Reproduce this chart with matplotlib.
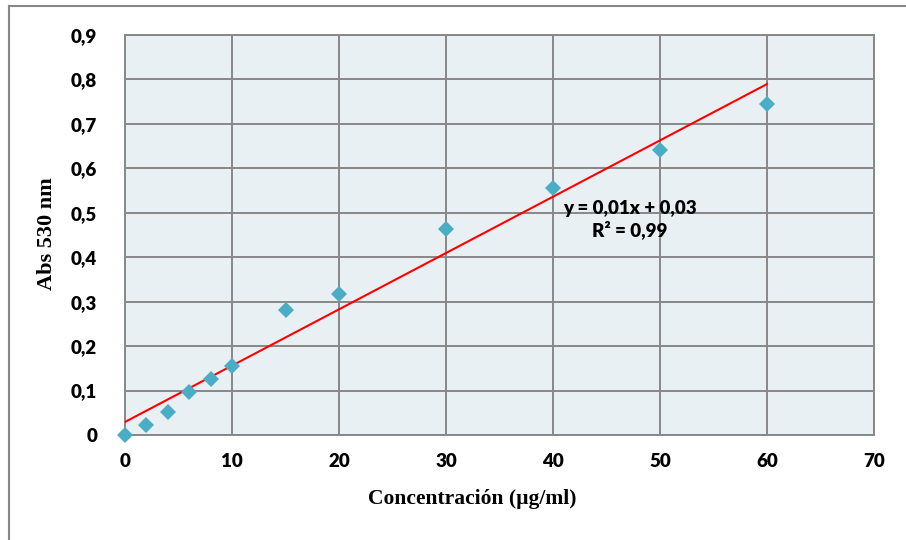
import numpy as np
import matplotlib
matplotlib.use("Agg")
import matplotlib.pyplot as plt
from matplotlib.lines import Line2D

conc = [0, 2, 4, 6, 8, 10, 15, 20, 30, 40, 50, 60]
absorb = [0.0, 0.022, 0.052, 0.097, 0.126, 0.155, 0.281, 0.317, 0.464, 0.556, 0.641, 0.745]
xticks = [0, 10, 20, 30, 40, 50, 60, 70]
yticks = [0, 0.1, 0.2, 0.3, 0.4, 0.5, 0.6, 0.7, 0.8, 0.9]
ytick_labels = ["0", "0,1", "0,2", "0,3", "0,4", "0,5", "0,6", "0,7", "0,8", "0,9"]
eq_text = "y = 0,01x + 0,03\nR² = 0,99"

W, H = 906, 540
fig = plt.figure(figsize=(W / 100, H / 100), dpi=100)
fig.patch.set_facecolor("white")

# outer chart border (left + top visible)
border = "#878787"
fig.add_artist(Line2D([9 / W, 9 / W], [0, 1 - 6 / H], color=border, lw=1.5, transform=fig.transFigure))
fig.add_artist(Line2D([9 / W, 1], [1 - 6 / H, 1 - 6 / H], color=border, lw=1.5, transform=fig.transFigure))

ax = fig.add_axes([125 / W, 105 / H, (874 - 125) / W, (435 - 35) / H])
ax.set_facecolor("#E9F0F4")
ax.set_xlim(0, 70)
ax.set_ylim(0, 0.9)
ax.set_xticks(xticks)
ax.set_yticks(yticks)
ax.set_yticklabels(ytick_labels)
ax.grid(True, color="#888888", lw=1.4)
ax.set_axisbelow(True)
for s in ax.spines.values():
    s.set_color("#888888")
    s.set_linewidth(1.4)
ax.tick_params(length=0, labelsize=13.5)
for lab in ax.get_xticklabels() + ax.get_yticklabels():
    lab.set_fontfamily("Lato")
    lab.set_fontweight("heavy")
ax.tick_params(axis="x", pad=13)
ax.tick_params(axis="y", pad=20)

# linear trendline
slope, intercept = np.polyfit(conc, absorb, 1)
xl = np.array([0, 60])
ax.plot(xl, slope * xl + intercept, color="#FF0000", lw=1.5, zorder=3)

ax.plot(conc, absorb, linestyle="none", marker="D", markersize=8,
        color="#4BACC6", markeredgewidth=0, zorder=4, clip_on=False)

ax.text(47.2, 0.484, eq_text, ha="center", va="center", fontsize=13.5,
        fontfamily="Lato", fontweight="heavy", linespacing=1.2, color="black")

fig.text(472 / W, 1 - 499 / H, "Concentración (µg/ml)", ha="center", va="center",
         fontsize=15.5, fontfamily="Liberation Serif", fontweight="bold")
fig.text(47 / W, 1 - 234 / H, "Abs 530 nm", ha="center", va="center", rotation=90,
         fontsize=16, fontfamily="Liberation Serif", fontweight="bold")

fig.savefig("out.png", dpi=100)
